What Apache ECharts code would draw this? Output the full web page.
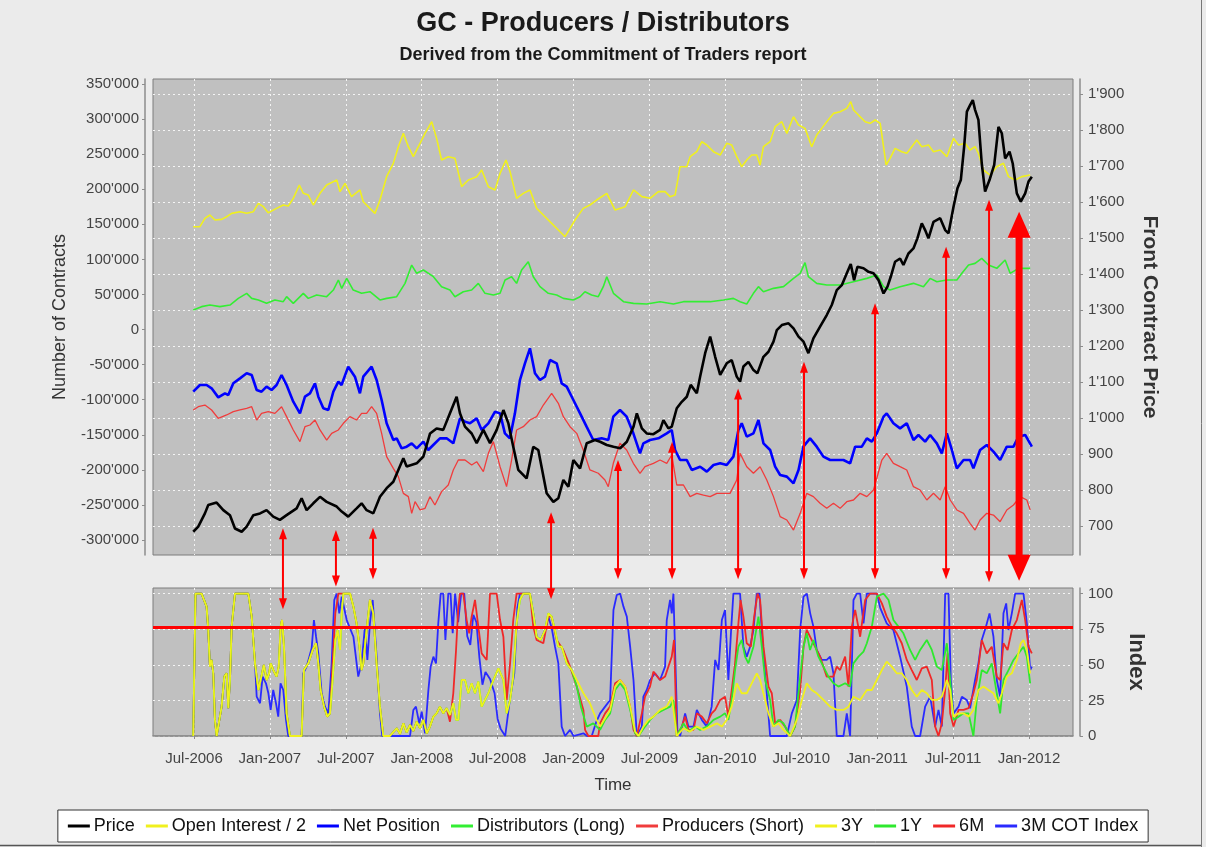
<!DOCTYPE html>
<html><head><meta charset="utf-8">
<script src="https://cdn.jsdelivr.net/npm/echarts@6/dist/echarts.min.js"></script>
<style>html,body{margin:0;padding:0;background:#ebebeb}#c{width:1206px;height:847px}</style>
</head><body><div id="c"></div>
<script>
// ---------- tick values ----------
const xTicks = [2006.5, 2007, 2007.5, 2008, 2008.5, 2009, 2009.5, 2010, 2010.5, 2011, 2011.5, 2012];
const contractTicks = [-300000,-250000,-200000,-150000,-100000,-50000,0,50000,100000,150000,200000,250000,300000,350000];
const priceTicks = [700,800,900,1000,1100,1200,1300,1400,1500,1600,1700,1800,1900];
const indexTicks = [0,25,50,75,100];
const indexThreshold = 76;

// ---------- top panel (x = year, value) ----------
const priceData = [[2006.495,684],[2006.528,698],[2006.572,735],[2006.594,758],[2006.649,765],[2006.693,744],[2006.737,730],[2006.770,693],[2006.814,684],[2006.847,698],[2006.891,730],[2006.935,735],[2006.978,744],[2007.022,726],[2007.066,717],[2007.110,730],[2007.176,749],[2007.209,777],[2007.242,744],[2007.286,763],[2007.330,781],[2007.374,767],[2007.440,754],[2007.473,740],[2007.516,726],[2007.571,749],[2007.604,763],[2007.637,744],[2007.681,735],[2007.725,781],[2007.769,805],[2007.813,823],[2007.879,888],[2007.901,865],[2007.967,874],[2008.011,893],[2008.055,957],[2008.098,971],[2008.142,967],[2008.186,1013],[2008.230,1059],[2008.252,1013],[2008.285,976],[2008.329,957],[2008.362,930],[2008.406,967],[2008.450,930],[2008.494,967],[2008.538,1022],[2008.571,985],[2008.603,920],[2008.636,856],[2008.691,832],[2008.735,920],[2008.768,911],[2008.823,791],[2008.867,767],[2008.900,777],[2008.933,828],[2008.966,809],[2008.999,883],[2009.043,860],[2009.087,930],[2009.141,939],[2009.175,934],[2009.219,925],[2009.263,920],[2009.307,916],[2009.351,934],[2009.395,976],[2009.417,1013],[2009.450,971],[2009.482,957],[2009.526,955],[2009.570,967],[2009.592,994],[2009.625,971],[2009.647,976],[2009.680,1027],[2009.713,1045],[2009.746,1059],[2009.772,1092],[2009.812,1069],[2009.834,1115],[2009.867,1180],[2009.900,1226],[2009.933,1170],[2009.966,1120],[2010.009,1152],[2010.042,1161],[2010.075,1115],[2010.097,1101],[2010.119,1143],[2010.152,1156],[2010.185,1133],[2010.211,1124],[2010.251,1170],[2010.284,1184],[2010.317,1212],[2010.339,1244],[2010.372,1258],[2010.416,1263],[2010.449,1249],[2010.482,1226],[2010.515,1212],[2010.547,1180],[2010.580,1221],[2010.624,1254],[2010.668,1286],[2010.701,1314],[2010.734,1355],[2010.767,1369],[2010.800,1402],[2010.826,1428],[2010.848,1383],[2010.870,1420],[2010.910,1416],[2010.943,1406],[2010.976,1402],[2011.009,1383],[2011.042,1346],[2011.068,1365],[2011.090,1393],[2011.118,1434],[2011.151,1443],[2011.173,1425],[2011.206,1457],[2011.239,1471],[2011.265,1499],[2011.294,1541],[2011.316,1522],[2011.338,1499],[2011.371,1545],[2011.415,1555],[2011.448,1522],[2011.470,1513],[2011.503,1587],[2011.529,1638],[2011.551,1661],[2011.573,1754],[2011.591,1851],[2011.612,1869],[2011.630,1883],[2011.645,1856],[2011.667,1828],[2011.689,1707],[2011.711,1629],[2011.740,1661],[2011.771,1703],[2011.799,1809],[2011.821,1791],[2011.843,1721],[2011.872,1740],[2011.893,1707],[2011.920,1624],[2011.946,1601],[2011.975,1624],[2011.997,1657],[2012.019,1670]];

const openInterestHalf = [[2006.495,146600],[2006.539,146600],[2006.572,158500],[2006.605,163200],[2006.638,156100],[2006.682,157000],[2006.715,160800],[2006.748,165600],[2006.803,168000],[2006.847,165600],[2006.891,168000],[2006.924,179800],[2006.957,175100],[2006.989,166500],[2007.044,172700],[2007.088,177500],[2007.121,176000],[2007.154,187000],[2007.194,206000],[2007.220,194100],[2007.253,191700],[2007.286,177500],[2007.330,194100],[2007.374,206000],[2007.440,213100],[2007.462,196500],[2007.495,208400],[2007.538,189400],[2007.593,198900],[2007.615,182200],[2007.659,172700],[2007.692,165600],[2007.725,184600],[2007.769,217900],[2007.813,236900],[2007.846,260600],[2007.879,279600],[2007.912,260600],[2007.945,246400],[2007.978,260600],[2008.022,279600],[2008.066,296200],[2008.098,272500],[2008.131,241600],[2008.175,246400],[2008.219,244000],[2008.263,203600],[2008.307,213100],[2008.362,217900],[2008.395,227400],[2008.439,203600],[2008.483,198900],[2008.516,222600],[2008.555,241600],[2008.582,225000],[2008.625,187000],[2008.669,194100],[2008.713,198900],[2008.757,172700],[2008.801,163200],[2008.856,151300],[2008.900,141800],[2008.944,132300],[2008.977,144200],[2009.010,156100],[2009.064,172700],[2009.108,177500],[2009.152,184600],[2009.219,194100],[2009.274,170300],[2009.340,175100],[2009.395,198900],[2009.450,189400],[2009.504,187000],[2009.559,196500],[2009.603,196500],[2009.636,189400],[2009.669,191700],[2009.702,232100],[2009.746,232100],[2009.768,246400],[2009.812,253500],[2009.845,267700],[2009.878,263000],[2009.922,253500],[2009.966,248700],[2010.009,265400],[2010.042,263000],[2010.075,246400],[2010.108,232100],[2010.141,241600],[2010.174,248700],[2010.207,248700],[2010.229,234500],[2010.251,260600],[2010.295,267700],[2010.328,289100],[2010.372,296200],[2010.405,279600],[2010.449,303400],[2010.482,291500],[2010.525,286700],[2010.569,260600],[2010.602,277200],[2010.635,286700],[2010.668,296200],[2010.712,308100],[2010.756,310500],[2010.800,315200],[2010.826,324800],[2010.844,312900],[2010.877,305700],[2010.921,296200],[2010.954,293900],[2010.987,298600],[2011.020,293900],[2011.042,260600],[2011.059,234500],[2011.085,244000],[2011.118,258200],[2011.162,253500],[2011.195,251100],[2011.228,260600],[2011.261,270100],[2011.294,260600],[2011.338,263000],[2011.371,253500],[2011.415,255900],[2011.459,246400],[2011.503,272500],[2011.536,263000],[2011.580,265400],[2011.612,255900],[2011.645,260600],[2011.667,251100],[2011.700,227400],[2011.744,220200],[2011.788,232100],[2011.832,236900],[2011.865,217900],[2011.909,213100],[2011.953,217900],[2012.008,220200]];

const netPosition = [[2006.495,-88600],[2006.539,-79100],[2006.583,-79100],[2006.616,-83800],[2006.660,-96700],[2006.704,-91000],[2006.726,-93300],[2006.759,-76700],[2006.803,-69600],[2006.847,-62450],[2006.880,-64800],[2006.913,-86200],[2006.945,-88600],[2006.978,-81500],[2007.011,-86200],[2007.044,-79100],[2007.077,-64800],[2007.110,-79100],[2007.154,-102800],[2007.198,-119500],[2007.231,-95700],[2007.264,-91000],[2007.297,-76700],[2007.319,-95700],[2007.352,-112300],[2007.385,-114700],[2007.418,-88600],[2007.451,-74300],[2007.472,-79100],[2007.516,-52950],[2007.560,-67200],[2007.593,-91000],[2007.615,-67200],[2007.670,-52950],[2007.703,-72000],[2007.736,-100500],[2007.769,-133700],[2007.813,-157500],[2007.835,-155100],[2007.868,-169400],[2007.901,-167000],[2007.934,-162200],[2007.967,-169400],[2008.011,-159800],[2008.043,-171700],[2008.076,-164600],[2008.120,-155100],[2008.164,-155100],[2008.208,-162200],[2008.252,-126600],[2008.285,-131300],[2008.318,-133700],[2008.362,-126600],[2008.395,-143200],[2008.439,-133700],[2008.483,-117100],[2008.516,-119500],[2008.548,-148000],[2008.581,-155100],[2008.614,-119500],[2008.647,-72000],[2008.680,-48200],[2008.713,-26800],[2008.746,-62450],[2008.779,-72000],[2008.812,-67200],[2008.845,-43500],[2008.889,-48200],[2008.922,-76700],[2008.955,-81500],[2008.999,-100500],[2009.043,-119500],[2009.086,-138500],[2009.130,-157500],[2009.185,-155100],[2009.229,-157500],[2009.262,-124200],[2009.306,-114700],[2009.350,-124200],[2009.394,-148000],[2009.438,-176500],[2009.460,-162200],[2009.504,-157500],[2009.559,-155100],[2009.614,-148000],[2009.647,-143200],[2009.669,-171700],[2009.702,-186000],[2009.746,-186000],[2009.779,-200200],[2009.834,-195500],[2009.878,-202600],[2009.922,-193100],[2009.966,-190700],[2010.009,-193100],[2010.053,-181200],[2010.086,-143200],[2010.108,-133700],[2010.141,-152700],[2010.185,-148000],[2010.218,-129000],[2010.251,-162200],[2010.295,-171700],[2010.328,-195500],[2010.361,-207400],[2010.405,-209700],[2010.449,-219200],[2010.482,-200200],[2010.514,-167000],[2010.558,-155100],[2010.602,-167000],[2010.646,-181200],[2010.690,-186000],[2010.734,-186000],[2010.778,-186000],[2010.822,-190700],[2010.855,-167000],[2010.899,-167000],[2010.932,-155100],[2010.965,-159800],[2010.998,-148000],[2011.042,-124200],[2011.063,-119500],[2011.107,-133700],[2011.151,-140900],[2011.195,-133700],[2011.239,-157500],[2011.272,-150300],[2011.316,-159800],[2011.349,-150300],[2011.393,-162200],[2011.426,-176500],[2011.459,-148000],[2011.492,-171700],[2011.525,-197900],[2011.569,-186000],[2011.612,-186000],[2011.634,-197900],[2011.678,-171700],[2011.722,-164600],[2011.766,-174100],[2011.810,-186000],[2011.854,-167000],[2011.898,-167000],[2011.931,-152700],[2011.975,-150300],[2012.019,-167000]];

const distributorsLong = [[2006.495,27800],[2006.550,32600],[2006.605,34900],[2006.671,32600],[2006.737,34900],[2006.792,44400],[2006.847,51600],[2006.880,44400],[2006.924,42100],[2006.978,37300],[2007.033,42100],[2007.088,39700],[2007.110,46800],[2007.154,37300],[2007.220,51600],[2007.253,44400],[2007.308,49200],[2007.374,46800],[2007.418,56300],[2007.451,70600],[2007.473,58700],[2007.506,72900],[2007.549,56300],[2007.604,51600],[2007.659,53900],[2007.725,42100],[2007.769,44400],[2007.835,46800],[2007.890,65800],[2007.934,91900],[2007.967,80100],[2008.011,84800],[2008.077,75300],[2008.131,61100],[2008.186,56300],[2008.219,46800],[2008.274,53900],[2008.329,56300],[2008.373,65800],[2008.417,51600],[2008.472,49200],[2008.516,51600],[2008.549,70600],[2008.592,75300],[2008.625,65800],[2008.658,84800],[2008.702,96700],[2008.735,75300],[2008.779,61100],[2008.834,51600],[2008.889,49200],[2008.933,44400],[2008.999,42100],[2009.043,46800],[2009.075,53900],[2009.119,49200],[2009.163,46800],[2009.196,61100],[2009.219,75300],[2009.263,51600],[2009.329,39700],[2009.395,37300],[2009.482,36400],[2009.570,39700],[2009.658,36400],[2009.724,39700],[2009.812,39700],[2009.900,39700],[2009.988,42100],[2010.053,44400],[2010.097,39700],[2010.141,36400],[2010.185,51600],[2010.218,61100],[2010.251,53900],[2010.317,58700],[2010.383,61100],[2010.449,72900],[2010.493,80100],[2010.525,95300],[2010.547,75300],[2010.602,65800],[2010.668,63400],[2010.756,63400],[2010.844,68200],[2010.932,72900],[2010.998,77700],[2011.042,61100],[2011.085,56300],[2011.151,61100],[2011.239,65800],[2011.305,61100],[2011.349,72900],[2011.393,68200],[2011.459,70600],[2011.525,70600],[2011.558,80100],[2011.602,91900],[2011.645,94300],[2011.689,101500],[2011.733,91900],[2011.788,87200],[2011.843,99100],[2011.876,80100],[2011.931,87200],[2012.008,87200]];

const producersShort = [[2006.495,-114700],[2006.528,-110000],[2006.572,-107600],[2006.616,-114700],[2006.660,-126600],[2006.715,-121800],[2006.759,-117100],[2006.803,-114700],[2006.847,-112300],[2006.880,-110000],[2006.913,-129000],[2006.945,-119500],[2006.989,-117100],[2007.033,-119500],[2007.077,-110000],[2007.110,-124200],[2007.154,-143200],[2007.198,-159800],[2007.231,-138500],[2007.264,-136100],[2007.297,-129000],[2007.330,-143200],[2007.374,-157500],[2007.407,-148000],[2007.451,-143200],[2007.484,-133700],[2007.527,-124200],[2007.571,-129000],[2007.604,-119500],[2007.637,-119500],[2007.670,-110000],[2007.703,-119500],[2007.736,-148000],[2007.769,-181200],[2007.813,-197900],[2007.846,-209700],[2007.879,-233500],[2007.912,-238200],[2007.934,-262000],[2007.956,-245400],[2007.989,-257200],[2008.022,-254900],[2008.054,-238200],[2008.087,-250100],[2008.131,-231100],[2008.175,-221600],[2008.208,-200200],[2008.241,-186000],[2008.285,-186000],[2008.329,-193100],[2008.362,-188400],[2008.406,-202600],[2008.439,-176500],[2008.472,-159800],[2008.516,-195500],[2008.559,-224000],[2008.592,-186000],[2008.625,-143200],[2008.669,-138500],[2008.713,-129000],[2008.757,-124200],[2008.801,-107600],[2008.856,-91000],[2008.900,-105200],[2008.933,-124200],[2008.977,-138500],[2009.021,-148000],[2009.064,-171700],[2009.108,-200200],[2009.163,-204900],[2009.207,-214500],[2009.229,-224000],[2009.262,-190700],[2009.306,-162200],[2009.350,-171700],[2009.394,-190700],[2009.438,-204900],[2009.471,-195500],[2009.526,-190700],[2009.570,-186000],[2009.614,-190700],[2009.647,-178900],[2009.680,-221600],[2009.724,-221600],[2009.768,-238200],[2009.812,-233500],[2009.856,-235900],[2009.900,-238200],[2009.944,-233500],[2009.987,-233500],[2010.031,-233500],[2010.075,-214500],[2010.097,-176500],[2010.141,-195500],[2010.185,-204900],[2010.229,-195500],[2010.273,-214500],[2010.317,-238200],[2010.361,-266700],[2010.405,-271500],[2010.449,-285800],[2010.493,-262000],[2010.536,-233500],[2010.580,-238200],[2010.624,-247700],[2010.668,-254900],[2010.712,-247700],[2010.756,-254900],[2010.800,-245400],[2010.844,-243000],[2010.888,-233500],[2010.932,-238200],[2010.976,-228800],[2011.031,-186000],[2011.063,-176500],[2011.107,-190700],[2011.151,-195500],[2011.195,-200200],[2011.239,-224000],[2011.283,-228800],[2011.327,-243000],[2011.371,-233500],[2011.415,-243000],[2011.448,-224000],[2011.481,-243000],[2011.525,-257200],[2011.569,-262000],[2011.612,-276200],[2011.645,-285800],[2011.678,-271500],[2011.722,-262000],[2011.766,-264400],[2011.810,-273900],[2011.854,-257200],[2011.898,-250100],[2011.942,-238200],[2011.986,-243000],[2012.008,-257200]];

// ---------- bottom panel: COT index ----------
const idxAllStart = [[2006.495,0],[2006.51,100],[2006.55,100],[2006.583,90.8],[2006.594,74.4],[2006.605,48.7],[2006.616,53.4],[2006.627,44.0],[2006.638,11.3],[2006.649,0],[2006.66,0],[2006.682,20.6],[2006.700,41.7],[2006.715,44.0],[2006.726,19.5],[2006.737,39.3],[2006.748,76.8],[2006.770,100],[2006.858,100],[2006.880,83.8],[2006.902,51.0]];
const idxLongStart = [[2006.924,32.3],[2006.946,42.8],[2006.96,49.9],[2006.979,39.3],[2006.995,44.0],[2007.005,51.0],[2007.022,46.3],[2007.044,41.7],[2007.058,48.7],[2007.071,76.8],[2007.08,81.4],[2007.093,62.7],[2007.11,15.9],[2007.132,0],[2007.209,0],[2007.224,46.3],[2007.253,51.0],[2007.282,60.4],[2007.304,65.1],[2007.319,51.0],[2007.334,32.3],[2007.357,20.6],[2007.378,13.6],[2007.396,15.9]];
const idx3Y1YMid = [[2007.413,39.3],[2007.431,67.4],[2007.446,74.4],[2007.462,60.4],[2007.473,86.1],[2007.484,100],[2007.528,100],[2007.55,90.8],[2007.571,79.1],[2007.59,62.7],[2007.604,46.3],[2007.615,51.0],[2007.637,74.4],[2007.659,95.5],[2007.681,86.1],[2007.703,51.0],[2007.725,20.6],[2007.747,0],[2007.79,0],[2007.835,5.4],[2007.857,1.5],[2007.879,8.9],[2007.901,2.5],[2007.923,7.8],[2007.945,3.5],[2007.967,10.1],[2007.989,5.4],[2008.011,11.3],[2008.033,1.9],[2008.054,6.6],[2008.077,13.6],[2008.098,15.9],[2008.12,20.6],[2008.142,15.9],[2008.164,19.5],[2008.186,14.8],[2008.208,23.0],[2008.226,11.3],[2008.241,11.3],[2008.263,39.3],[2008.285,39.3],[2008.307,30.0],[2008.329,37.0],[2008.351,30.0],[2008.373,38.2],[2008.395,20.6],[2008.417,25.3],[2008.439,30.0],[2008.472,39.3],[2008.505,47.5],[2008.538,39.3],[2008.56,15.9],[2008.582,25.3],[2008.603,41.7],[2008.625,79.1],[2008.647,95.5],[2008.669,100],[2008.713,100],[2008.735,86.1],[2008.757,69.7],[2008.783,67.4],[2008.812,74.4],[2008.834,86.1],[2008.856,83.8],[2008.878,74.4],[2008.9,62.7],[2008.922,62.7],[2008.955,51.0],[2008.988,46.3]];
const idx3YLate = [[2009.021,39.3],[2009.065,30.0],[2009.108,23.0],[2009.152,11.3],[2009.175,6.6],[2009.208,12.4],[2009.241,18.3],[2009.274,34.7],[2009.307,39.3],[2009.34,34.7],[2009.373,20.6],[2009.406,3.1],[2009.428,0],[2009.46,6.6],[2009.493,11.3],[2009.526,13.6],[2009.57,18.3],[2009.614,20.6],[2009.647,27.6],[2009.68,0],[2009.724,5.4],[2009.768,3.1],[2009.812,6.6],[2009.856,4.3],[2009.9,6.6],[2009.944,8.9],[2009.977,6.6],[2010.009,11.3],[2010.042,20.6],[2010.075,37.0],[2010.108,30.0],[2010.141,30.0],[2010.174,37.0],[2010.207,44.0],[2010.229,39.3],[2010.251,30.0],[2010.284,15.9],[2010.317,6.6],[2010.35,8.9],[2010.383,4.3],[2010.427,0],[2010.471,11.3],[2010.504,25.3],[2010.536,37.0],[2010.569,32.3],[2010.602,30.0],[2010.646,25.3],[2010.69,20.6],[2010.734,18.3],[2010.778,18.3],[2010.811,20.6],[2010.844,27.6],[2010.888,25.3],[2010.932,32.3],[2010.965,32.3],[2010.998,39.3],[2011.031,46.3],[2011.063,52.2],[2011.096,48.7],[2011.129,44.0],[2011.162,44.0],[2011.195,39.3],[2011.228,32.3],[2011.261,27.6],[2011.294,32.3],[2011.327,30.0],[2011.36,25.3],[2011.393,25.3],[2011.426,27.6],[2011.459,39.3],[2011.481,32.3],[2011.503,13.6],[2011.536,15.9],[2011.569,15.9],[2011.602,13.6],[2011.634,18.3],[2011.667,32.3],[2011.7,34.7],[2011.733,32.3],[2011.766,30.0],[2011.799,23.0],[2011.821,30.0],[2011.854,41.7],[2011.887,44.0],[2011.92,53.4],[2011.946,65.1],[2011.964,67.4],[2011.986,60.4],[2012.008,44.0]];
const idx1YLate = [[2009.021,35],[2009.05,20],[2009.087,6.6],[2009.13,8.9],[2009.175,4.3],[2009.208,11.3],[2009.241,15.9],[2009.274,32.3],[2009.307,37.0],[2009.34,32.3],[2009.373,18.3],[2009.406,1.9],[2009.428,0],[2009.471,6.6],[2009.504,11.3],[2009.548,15.9],[2009.592,18.3],[2009.636,20.6],[2009.658,25.3],[2009.68,0],[2009.724,8.9],[2009.757,3.1],[2009.801,6.6],[2009.834,4.3],[2009.878,6.6],[2009.922,11.3],[2009.966,13.6],[2009.998,15.9],[2010.02,11.3],[2010.042,25.3],[2010.064,46.3],[2010.086,62.7],[2010.108,67.4],[2010.13,55.7],[2010.152,51.0],[2010.185,62.7],[2010.218,83.8],[2010.24,62.7],[2010.262,39.3],[2010.295,25.3],[2010.317,6.6],[2010.35,11.3],[2010.383,8.9],[2010.427,0],[2010.459,6.6],[2010.493,41.7],[2010.515,62.7],[2010.536,72.1],[2010.558,60.4],[2010.58,67.4],[2010.613,55.7],[2010.646,48.7],[2010.679,41.7],[2010.712,37.0],[2010.745,34.7],[2010.789,37.0],[2010.822,34.7],[2010.844,51.0],[2010.877,55.7],[2010.91,59.2],[2010.932,65.1],[2010.965,76.8],[2010.998,97.8],[2011.042,100],[2011.075,95.5],[2011.107,81.4],[2011.14,76.8],[2011.173,72.1],[2011.217,60.4],[2011.25,53.4],[2011.283,60.4],[2011.327,67.4],[2011.36,60.4],[2011.393,48.7],[2011.426,46.3],[2011.459,65.1],[2011.481,39.3],[2011.503,11.3],[2011.536,13.6],[2011.569,15.9],[2011.602,15.9],[2011.634,0],[2011.656,25.3],[2011.689,46.3],[2011.722,44.0],[2011.755,51.0],[2011.788,30.0],[2011.81,15.9],[2011.832,39.3],[2011.865,46.3],[2011.898,53.4],[2011.931,58.0],[2011.964,62.7],[2011.986,55.7],[2012.008,37.0]];
const idx6MLate = [[2007.413,51.0],[2007.431,86.1],[2007.451,100],[2007.528,100],[2007.55,90.8],[2007.571,79.1],[2007.59,62.7],[2007.604,46.3],[2007.615,51.0],[2007.637,74.4],[2007.659,95.5],[2007.681,86.1],[2007.703,51.0],[2007.725,20.6],[2007.747,0],[2007.79,0],[2007.835,5.4],[2007.857,1.5],[2007.879,8.9],[2007.901,2.5],[2007.923,7.8],[2007.945,3.5],[2007.967,10.1],[2007.989,5.4],[2008.011,11.3],[2008.033,1.9],[2008.054,6.6],[2008.077,13.6],[2008.098,15.9],[2008.12,20.6],[2008.142,15.9],[2008.164,19.5],[2008.186,10],[2008.208,30],[2008.226,60],[2008.241,90],[2008.252,100],[2008.274,100],[2008.296,81.4],[2008.313,72.1],[2008.329,83.8],[2008.351,95.5],[2008.373,76.8],[2008.395,58.0],[2008.428,53.4],[2008.45,100],[2008.494,100],[2008.516,81.4],[2008.538,69.7],[2008.56,25.3],[2008.582,51.0],[2008.603,81.4],[2008.625,100],[2008.713,100],[2008.735,76.8],[2008.757,67.4],[2008.801,65.1],[2008.834,83.8],[2008.856,83.8],[2008.889,67.4],[2008.933,60.4],[2008.977,48.7],[2009.021,34.7],[2009.065,18.3],[2009.076,4.3],[2009.098,0],[2009.163,0],[2009.175,8.9],[2009.208,15.9],[2009.241,20.6],[2009.274,37.0],[2009.307,39.3],[2009.34,34.7],[2009.373,20.6],[2009.395,4.3],[2009.417,0],[2009.45,15.9],[2009.471,27.6],[2009.504,34.7],[2009.526,45.2],[2009.57,39.3],[2009.603,41.7],[2009.625,48.7],[2009.647,55.7],[2009.662,67.4],[2009.68,0],[2009.713,6.6],[2009.735,13.6],[2009.757,4.3],[2009.79,4.3],[2009.812,15.9],[2009.845,13.6],[2009.878,8.9],[2009.91,15.9],[2009.933,18.3],[2009.966,25.3],[2009.998,27.6],[2010.02,13.6],[2010.042,32.3],[2010.064,51.0],[2010.086,79.1],[2010.1,95.5],[2010.119,83.8],[2010.141,65.1],[2010.168,62.7],[2010.19,83.8],[2010.212,100],[2010.229,95.5],[2010.251,62.7],[2010.284,34.7],[2010.306,30.0],[2010.328,8.9],[2010.361,11.3],[2010.394,6.6],[2010.427,0],[2010.459,6.6],[2010.493,32.3],[2010.515,62.7],[2010.536,74.4],[2010.558,69.7],[2010.591,62.7],[2010.624,55.7],[2010.668,41.7],[2010.712,41.7],[2010.734,48.7],[2010.756,46.3],[2010.789,55.7],[2010.811,34.7],[2010.833,76.8],[2010.855,88.5],[2010.888,69.7],[2010.921,95.5],[2010.954,100],[2010.998,100],[2011.031,93.1],[2011.063,83.8],[2011.097,76.8],[2011.129,72.1],[2011.162,65.1],[2011.195,53.4],[2011.228,46.3],[2011.261,39.3],[2011.294,47.5],[2011.327,48.7],[2011.36,39.3],[2011.382,6.6],[2011.404,0],[2011.426,8.9],[2011.448,32.3],[2011.464,58.0],[2011.481,15.9],[2011.503,6.6],[2011.536,18.3],[2011.569,18.3],[2011.602,19.5],[2011.634,30.0],[2011.656,39.3],[2011.689,67.4],[2011.722,58.0],[2011.755,62.7],[2011.788,41.7],[2011.81,39.3],[2011.832,65.1],[2011.859,60.4],[2011.887,74.4],[2011.92,81.4],[2011.953,95.5],[2011.975,81.4],[2011.997,62.7],[2012.019,58.0]];
const idx3MLate = [[2006.913,27.6],[2006.935,23.0],[2006.952,41.7],[2006.974,37.0],[2006.99,30.0],[2007.005,18.3],[2007.022,32.3],[2007.04,23.0],[2007.055,13.6],[2007.07,37.0],[2007.088,32.3],[2007.106,11.3],[2007.121,0],[2007.209,0],[2007.22,44.0],[2007.242,48.7],[2007.275,61.6],[2007.29,81.4],[2007.304,69.7],[2007.319,58.0],[2007.341,30.0],[2007.363,20.6],[2007.385,15.9],[2007.407,51.0],[2007.424,95.5],[2007.44,100],[2007.457,86.1],[2007.473,97.8],[2007.506,81.4],[2007.55,69.7],[2007.582,41.7],[2007.604,51.0],[2007.626,76.8],[2007.642,53.4],[2007.659,79.1],[2007.677,95.5],[2007.703,55.7],[2007.725,15.9],[2007.74,0],[2007.923,0],[2007.945,18.3],[2007.962,20.6],[2007.984,8.9],[2008.0,17.1],[2008.022,1.9],[2008.044,32.3],[2008.059,48.7],[2008.077,55.7],[2008.094,51.0],[2008.109,79.1],[2008.125,100],[2008.142,100],[2008.156,67.4],[2008.175,100],[2008.19,100],[2008.204,72.1],[2008.22,100],[2008.24,80],[2008.26,100],[2008.28,100],[2008.30,70],[2008.32,64],[2008.34,85],[2008.36,80],[2008.38,55],[2008.40,36],[2008.42,45],[2008.45,40],[2008.48,30],[2008.50,12],[2008.52,5],[2008.55,0],[2008.58,25],[2008.61,44],[2008.63,90],[2008.647,100],[2008.713,100],[2008.735,86.1],[2008.757,69.7],[2008.783,67.4],[2008.812,74.4],[2008.834,83.8],[2008.856,76],[2008.878,62.7],[2008.9,51.0],[2008.922,6.6],[2008.944,0],[2008.977,4.3],[2009.0,0],[2009.065,1.9],[2009.09,0],[2009.12,0],[2009.15,10],[2009.175,15.9],[2009.208,20.6],[2009.241,25.3],[2009.263,88.5],[2009.285,99],[2009.307,100],[2009.329,90.8],[2009.351,83.8],[2009.373,62.7],[2009.395,39.3],[2009.417,0],[2009.45,6.6],[2009.46,27.6],[2009.482,32.3],[2009.504,39.3],[2009.537,44.0],[2009.57,39.3],[2009.603,48.7],[2009.614,81.4],[2009.636,95.5],[2009.647,86.1],[2009.658,100],[2009.669,100],[2009.684,4.3],[2009.702,0],[2009.735,15.9],[2009.757,6.6],[2009.79,6.6],[2009.812,18.3],[2009.845,11.3],[2009.878,6.6],[2009.91,20.6],[2009.933,53.4],[2009.955,46.3],[2009.977,81.4],[2009.998,88.5],[2010.02,39.3],[2010.038,74.4],[2010.053,100],[2010.097,100],[2010.119,62.7],[2010.141,55.7],[2010.163,62.7],[2010.185,74.4],[2010.207,100],[2010.225,100],[2010.247,62.7],[2010.273,30.0],[2010.295,0],[2010.405,0],[2010.438,15.9],[2010.471,25.3],[2010.493,74.4],[2010.515,97.8],[2010.537,100],[2010.559,86.1],[2010.58,76.8],[2010.602,60.4],[2010.635,53.4],[2010.668,53.4],[2010.69,55.7],[2010.712,44.0],[2010.734,0],[2010.778,0],[2010.8,15.9],[2010.822,0],[2010.844,95.5],[2010.866,100],[2010.888,100],[2010.91,79.1],[2010.932,100],[2010.998,100],[2011.02,90],[2011.063,79.1],[2011.107,74.4],[2011.151,55.7],[2011.195,34.7],[2011.228,6.6],[2011.25,0],[2011.283,0],[2011.316,20.6],[2011.349,27.6],[2011.382,6.6],[2011.404,18.3],[2011.426,6.6],[2011.448,100],[2011.47,100],[2011.485,39.3],[2011.503,15.9],[2011.536,20.6],[2011.558,27.6],[2011.59,25.3],[2011.612,19.5],[2011.645,39.3],[2011.667,51.0],[2011.689,67.4],[2011.717,76.8],[2011.74,86.1],[2011.766,69.7],[2011.788,39.3],[2011.81,27.6],[2011.832,86.1],[2011.85,93.1],[2011.865,74.4],[2011.887,86.1],[2011.909,100],[2011.964,100],[2011.986,79.1],[2012.008,46.3],[2012.019,48.7]];

// ---------- signal arrows ----------
const arrowYears = [2007.086, 2007.435, 2007.679, 2008.852, 2009.293, 2009.649, 2010.084, 2010.518, 2010.986, 2011.454, 2011.737, 2011.935];
const arrowPriceTop = [694, 689, 695, 738, 883, 934, 1082, 1156, 1319, 1476, 1606, 1573];
const arrowIndexBottom = [89, 105, 110, 96, 110, 110, 110, 110, 110, 110, 108, 109];

// ---------- build ----------
const idx3Y = idxAllStart.concat(idxLongStart, idx3Y1YMid, idx3YLate);
const idx1Y = idxAllStart.concat(idxLongStart, idx3Y1YMid, idx1YLate);
const idx6M = idxAllStart.concat(idxLongStart, idx6MLate);
const idx3M = idxAllStart.concat(idx3MLate);

const FONT = 'Liberation Sans, Arial, Helvetica, sans-serif';
function fmtK(v){ return String(v).replace(/\B(?=(\d{3})+(?!\d))/g, "'"); }
function fmtDate(v){ const y = Math.floor(v + 1e-6); return ((v - y) > 0.25 ? 'Jul-' : 'Jan-') + y; }

const chart = echarts.init(document.getElementById('c'), null, {renderer: 'canvas'});
const axisGray = '#8c8c8c';
const labelStyle = {color: '#444', fontSize: 15, fontFamily: FONT};
const gridSplit = {show: true, lineStyle: {color: '#f4f4f4', type: [2, 3], width: 1}};

function lineSeries(name, data, color, width, xi, yi, z){
  return {name, type: 'line', data, xAxisIndex: xi, yAxisIndex: yi, showSymbol: false, symbol: 'none',
    lineStyle: {color, width}, itemStyle: {color}, emphasis: {disabled: true}, z: z || 2, silent: true};
}

const option = {
  backgroundColor: '#ebebeb',
  animation: false,
  title: [
    {text: 'GC - Producers / Distributors', left: 'center', top: 5,
     textStyle: {fontSize: 27, fontWeight: 'bold', color: '#1a1a1a', fontFamily: FONT}},
    {text: 'Derived from the Commitment of Traders report', left: 'center', top: 41,
     textStyle: {fontSize: 18, fontWeight: 'bold', color: '#1a1a1a', fontFamily: FONT}}
  ],
  legend: {
    left: 'center', top: 810, padding: [7, 10], itemGap: 11, itemWidth: 22, itemHeight: 3, icon: 'rect',
    backgroundColor: '#ffffff', borderColor: '#333', borderWidth: 1,
    textStyle: {fontSize: 18, color: '#111', fontFamily: FONT, padding: [0, 0, 0, -1]},
    data: ['Price', 'Open Interest / 2', 'Net Position', 'Distributors (Long)', 'Producers (Short)', '3Y', '1Y', '6M', '3M COT Index']
  },
  grid: [
    {left: 153, right: 133, top: 79, height: 476, show: true, backgroundColor: '#c0c0c0', borderColor: '#7d7d7d', borderWidth: 1},
    {left: 153, right: 133, top: 588, height: 148, show: true, backgroundColor: '#c0c0c0', borderColor: '#7d7d7d', borderWidth: 1}
  ],
  xAxis: [
    {gridIndex: 0, type: 'value', min: 2006.23, max: 2012.29,
     axisLine: {show: false}, axisTick: {show: false, customValues: xTicks},
     axisLabel: {show: false, customValues: xTicks}, splitLine: gridSplit},
    {gridIndex: 1, type: 'value', min: 2006.23, max: 2012.29, offset: 7,
     axisLine: {show: true, lineStyle: {color: axisGray, width: 1.5}},
     axisTick: {show: true, customValues: xTicks, length: 3, lineStyle: {color: axisGray}},
     axisLabel: {customValues: xTicks, formatter: fmtDate, margin: 8, ...labelStyle},
     splitLine: gridSplit,
     name: 'Time', nameLocation: 'middle', nameGap: 34,
     nameTextStyle: {fontSize: 17, color: '#333', fontFamily: FONT}}
  ],
  yAxis: [
    {gridIndex: 0, type: 'value', position: 'left', offset: 8, min: -321400, max: 357100,
     axisLine: {show: true, lineStyle: {color: axisGray, width: 1.5}},
     axisTick: {show: true, customValues: contractTicks, length: 3, lineStyle: {color: axisGray}},
     axisLabel: {customValues: contractTicks, formatter: fmtK, margin: 6, ...labelStyle},
     splitLine: {show: false},
     name: 'Number of Contracts', nameLocation: 'middle', nameGap: 76,
     nameTextStyle: {fontSize: 18, color: '#333', fontFamily: FONT}},
    {gridIndex: 0, type: 'value', position: 'right', offset: 7, min: 619.4, max: 1941.7,
     axisLine: {show: true, lineStyle: {color: axisGray, width: 1.5}},
     axisTick: {show: true, customValues: priceTicks, length: 3, lineStyle: {color: axisGray}},
     axisLabel: {customValues: priceTicks, formatter: fmtK, margin: 8, ...labelStyle},
     splitLine: gridSplit,
     name: 'Front Contract Price', nameLocation: 'middle', nameGap: 59, nameRotate: -90,
     nameTextStyle: {fontSize: 21, fontWeight: 'bold', color: '#333', fontFamily: FONT}},
    {gridIndex: 1, type: 'value', position: 'right', offset: 7, min: 0, max: 103.9,
     axisLine: {show: true, lineStyle: {color: axisGray, width: 1.5}},
     axisTick: {show: true, customValues: indexTicks, length: 3, lineStyle: {color: axisGray}},
     axisLabel: {customValues: indexTicks, margin: 8, ...labelStyle},
     splitLine: gridSplit,
     name: 'Index', nameLocation: 'middle', nameGap: 45, nameRotate: -90,
     nameTextStyle: {fontSize: 22, fontWeight: 'bold', color: '#333', fontFamily: FONT}}
  ],
  series: [
    lineSeries('Open Interest / 2', openInterestHalf, '#f0f01e', 1.6, 0, 0, 2),
    lineSeries('Distributors (Long)', distributorsLong, '#33ee33', 1.6, 0, 0, 2),
    lineSeries('Producers (Short)', producersShort, '#f03c3c', 1.3, 0, 0, 2),
    lineSeries('Net Position', netPosition, '#0000ff', 2.6, 0, 0, 3),
    lineSeries('Price', priceData, '#000000', 2.6, 0, 1, 4),
    lineSeries('3M COT Index', idx3M, '#2a2aff', 1.8, 1, 2, 2),
    lineSeries('6M', idx6M, '#f02828', 1.8, 1, 2, 2),
    lineSeries('1Y', idx1Y, '#2ee82e', 1.8, 1, 2, 2),
    Object.assign(lineSeries('3Y', idx3Y, '#f0f01e', 1.8, 1, 2, 3), {
      markLine: {silent: true, symbol: ['none', 'none'], label: {show: false},
        lineStyle: {color: '#ff0000', width: 3, type: 'solid'}, data: [{yAxis: indexThreshold}]}
    })
  ]
};
chart.setOption(option);

// arrows linking price (top panel) to COT index (bottom panel), plus the outer frame
const graphics = [
  {type: 'line', z: 100, silent: true, shape: {x1: 0, y1: 845.5, x2: 1201, y2: 845.5}, style: {stroke: '#555', lineWidth: 1.5}},
  {type: 'line', z: 100, silent: true, shape: {x1: 1201.5, y1: 0, x2: 1201.5, y2: 847}, style: {stroke: '#777', lineWidth: 1}}
];
arrowYears.forEach((yr, i) => {
  const top = chart.convertToPixel({xAxisIndex: 0, yAxisIndex: 1}, [yr, arrowPriceTop[i]]);
  const bot = chart.convertToPixel({xAxisIndex: 1, yAxisIndex: 2}, [yr, arrowIndexBottom[i]]);
  const big = i === arrowYears.length - 1;
  const w = big ? 23 : 8, h = big ? 26 : 11, lw = big ? 7 : 2;
  const x = top[0];
  const red = '#ff0000';
  graphics.push({type: 'line', z: 100, silent: true, shape: {x1: x, y1: top[1] + h - 2, x2: x, y2: bot[1] - h + 2}, style: {stroke: red, lineWidth: lw}});
  graphics.push({type: 'polygon', z: 100, silent: true, shape: {points: [[x, top[1]], [x - w / 2, top[1] + h], [x + w / 2, top[1] + h]]}, style: {fill: red}});
  graphics.push({type: 'polygon', z: 100, silent: true, shape: {points: [[x, bot[1]], [x - w / 2, bot[1] - h], [x + w / 2, bot[1] - h]]}, style: {fill: red}});
});
chart.setOption({graphic: graphics});
</script>
</body></html>
